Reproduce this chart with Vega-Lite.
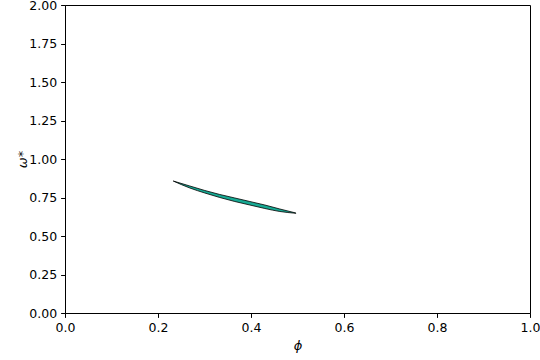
{
  "$schema": "https://vega.github.io/schema/vega-lite/v6.json",
  "autosize": "none",
  "width": 465,
  "height": 308,
  "padding": {"left": 65, "top": 5, "right": 10, "bottom": 47},
  "background": "white",
  "config": {
    "view": {"stroke": "black", "strokeWidth": 1},
    "font": "DejaVu Sans",
    "axis": {
      "grid": false,
      "domainColor": "black",
      "tickColor": "black",
      "tickSize": 4.4,
      "labelPadding": 4,
      "labelFontSize": 12.5,
      "labelColor": "black",
      "labelFont": "DejaVu Sans",
      "titleFont": "DejaVu Sans",
      "titleFontSize": 13,
      "titleFontWeight": "normal",
      "titleColor": "black"
    }
  },
  "data": {
    "values": [
      {"phi": 0.2328, "upper": 0.857, "lower": 0.857},
      {"phi": 0.2684, "upper": 0.8247, "lower": 0.8117},
      {"phi": 0.3007, "upper": 0.7955, "lower": 0.7792},
      {"phi": 0.3329, "upper": 0.7695, "lower": 0.75},
      {"phi": 0.3652, "upper": 0.7468, "lower": 0.724},
      {"phi": 0.3975, "upper": 0.724, "lower": 0.7013},
      {"phi": 0.4298, "upper": 0.7013, "lower": 0.6786},
      {"phi": 0.462, "upper": 0.6753, "lower": 0.6591},
      {"phi": 0.4965, "upper": 0.6494, "lower": 0.6475}
    ]
  },
  "mark": {"type": "area", "color": "#17a993", "stroke": "black", "strokeWidth": 0.8, "opacity": 1, "interpolate": "monotone"},
  "encoding": {
    "x": {
      "field": "phi", "type": "quantitative",
      "scale": {"domain": [0, 1], "nice": false, "zero": false},
      "axis": {"values": [0, 0.2, 0.4, 0.6, 0.8, 1.0], "format": ".1f", "title": "ϕ", "titleFontStyle": "italic", "titlePadding": 6, "labelFlush": false}
    },
    "y": {
      "field": "upper", "type": "quantitative",
      "scale": {"domain": [0, 2], "nice": false, "zero": false},
      "axis": {"values": [0, 0.25, 0.5, 0.75, 1, 1.25, 1.5, 1.75, 2], "format": ".2f", "title": "ω*", "titleFontStyle": "italic", "titlePadding": -1, "labelFlush": false}
    },
    "y2": {"field": "lower"}
  }
}
